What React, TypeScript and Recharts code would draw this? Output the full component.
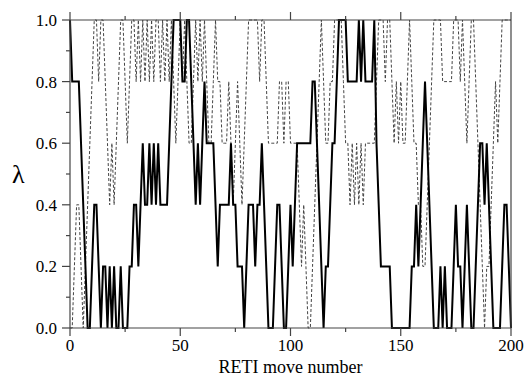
import { Line, LineChart, XAxis, YAxis } from "recharts";

// λ visited by the two replicas, one value per RETI move (0..200)
const solidLambda = [
  1.0, 0.8, 0.8, 0.8, 0.8, 0.6, 0.4, 0.2, 0.0, 0.0,
  0.2, 0.4, 0.4, 0.2, 0.0, 0.2, 0.2, 0.0, 0.2, 0.0,
  0.2, 0.0, 0.0, 0.2, 0.0, 0.0, 0.0, 0.2, 0.2, 0.4,
  0.4, 0.2, 0.4, 0.6, 0.4, 0.4, 0.6, 0.4, 0.6, 0.4,
  0.6, 0.4, 0.4, 0.4, 0.4, 0.6, 0.8, 1.0, 1.0, 1.0,
  1.0, 0.8, 0.8, 1.0, 1.0, 0.8, 0.6, 0.4, 0.6, 0.4,
  0.6, 0.8, 0.6, 0.6, 0.6, 0.6, 0.4, 0.2, 0.4, 0.4,
  0.4, 0.4, 0.4, 0.6, 0.4, 0.4, 0.2, 0.2, 0.2, 0.0,
  0.2, 0.4, 0.4, 0.4, 0.2, 0.4, 0.4, 0.6, 0.4, 0.2,
  0.0, 0.0, 0.0, 0.2, 0.4, 0.4, 0.2, 0.0, 0.0, 0.2,
  0.4, 0.2, 0.4, 0.6, 0.6, 0.6, 0.6, 0.6, 0.6, 0.6,
  0.8, 0.8, 0.6, 0.4, 0.2, 0.0, 0.2, 0.2, 0.4, 0.6,
  0.6, 0.8, 1.0, 1.0, 1.0, 1.0, 0.8, 0.8, 0.8, 0.8,
  0.8, 1.0, 0.8, 1.0, 0.8, 0.8, 0.8, 0.8, 1.0, 0.6,
  0.4, 0.2, 0.2, 0.2, 0.2, 0.2, 0.0, 0.0, 0.0, 0.0,
  0.0, 0.0, 0.0, 0.0, 0.0, 0.2, 0.2, 0.4, 0.2, 0.4,
  0.6, 0.8, 0.6, 0.4, 0.2, 0.0, 0.0, 0.0, 0.2, 0.0,
  0.2, 0.0, 0.0, 0.0, 0.2, 0.4, 0.2, 0.2, 0.0, 0.2,
  0.4, 0.2, 0.0, 0.0, 0.2, 0.4, 0.6, 0.6, 0.4, 0.6,
  0.4, 0.2, 0.0, 0.0, 0.0, 0.0, 0.2, 0.4, 0.4, 0.2,
  0.0,
];

const dashedLambda = [
  0.0, 0.0, 0.2, 0.4, 0.4, 0.2, 0.0, 0.2, 0.4, 0.6,
  0.8, 1.0, 1.0, 0.8, 1.0, 1.0, 0.8, 0.6, 0.4, 0.6,
  0.4, 0.6, 0.8, 1.0, 1.0, 0.8, 0.6, 0.8, 1.0, 1.0,
  0.8, 1.0, 0.8, 1.0, 0.8, 1.0, 0.8, 1.0, 0.8, 1.0,
  1.0, 0.8, 1.0, 0.8, 1.0, 0.8, 1.0, 0.8, 0.6, 0.8,
  1.0, 0.8, 1.0, 0.8, 0.6, 0.6, 0.8, 1.0, 0.8, 1.0,
  0.8, 1.0, 0.8, 0.6, 0.6, 0.8, 1.0, 0.8, 0.8, 0.6,
  0.6, 0.6, 0.8, 0.6, 0.4, 0.6, 0.8, 0.6, 0.4, 0.6,
  0.8, 1.0, 1.0, 1.0, 1.0, 1.0, 0.8, 1.0, 1.0, 0.8,
  0.6, 0.6, 0.6, 0.6, 0.6, 0.8, 0.8, 0.6, 0.8, 0.8,
  0.6, 0.6, 0.6, 0.6, 0.4, 0.2, 0.4, 0.2, 0.0, 0.0,
  0.2, 0.4, 0.6, 0.8, 1.0, 0.8, 0.6, 0.6, 0.8, 0.8,
  1.0, 1.0, 1.0, 1.0, 0.8, 0.6, 0.6, 0.4, 0.6, 0.4,
  0.6, 0.4, 0.6, 0.4, 0.6, 0.6, 0.6, 0.6, 0.6, 0.8,
  1.0, 1.0, 1.0, 0.8, 1.0, 1.0, 0.8, 0.6, 0.8, 0.6,
  0.8, 0.6, 0.6, 0.8, 1.0, 0.8, 0.6, 0.6, 0.4, 0.4,
  0.2, 0.2, 0.4, 0.6, 0.8, 1.0, 1.0, 1.0, 1.0, 0.8,
  0.8, 0.8, 0.8, 0.8, 1.0, 1.0, 1.0, 0.8, 1.0, 0.8,
  0.6, 0.8, 1.0, 1.0, 0.8, 0.6, 0.4, 0.2, 0.0, 0.2,
  0.2, 0.4, 0.6, 0.8, 0.6, 0.8, 1.0, 1.0, 1.0, 1.0,
  1.0,
];

const xTicks = [0, 25, 50, 75, 100, 125, 150, 175, 200];
const yTicks = [0, 0.1, 0.2, 0.3, 0.4, 0.5, 0.6, 0.7, 0.8, 0.9, 1.0];

const data = solidLambda.map((v, i) => ({
  move: i,
  solid: v,
  dashed: dashedLambda[i],
}));

const FONT = "'Liberation Serif', 'Times New Roman', 'DejaVu Serif', serif";
const AXIS = "#444";
const TS = 8; // room reserved for ticks
const TM = 2;
const MAJOR = 8;
const MINOR = 4;

const isMajorX = (v: number) => v % 50 === 0;
const isMajorY = (v: number) => Math.round(v * 10) % 2 === 0;

// tick mark + optional label, drawn outward from the axis line
function makeTick(side: "bottom" | "top" | "left" | "right") {
  return function Tick(props: any) {
    const { x, y, payload } = props;
    const v = payload.value;
    const major = side === "bottom" || side === "top" ? isMajorX(v) : isMajorY(v);
    const len = major ? MAJOR : MINOR;
    let line;
    let label = null;
    if (side === "bottom") {
      const ay = y - TS - TM;
      line = <line x1={x} x2={x} y1={ay} y2={ay + len} stroke={AXIS} strokeWidth={1.2} />;
      if (major)
        label = (
          <text x={x} y={ay + 11} dy="0.71em" textAnchor="middle" fill="#000"
            style={{ fontSize: 17, fontFamily: FONT }}>
            {v}
          </text>
        );
    } else if (side === "top") {
      const ay = y + TS + TM;
      line = <line x1={x} x2={x} y1={ay} y2={ay - len} stroke={AXIS} strokeWidth={1.2} />;
    } else if (side === "left") {
      const ax = x + TS + TM;
      line = <line x1={ax} x2={ax - len} y1={y} y2={y} stroke={AXIS} strokeWidth={1.2} />;
      if (major)
        label = (
          <text x={ax - 13} y={y} dy="0.35em" textAnchor="end" fill="#000"
            style={{ fontSize: 17, fontFamily: FONT }}>
            {v.toFixed(1)}
          </text>
        );
    } else {
      const ax = x - TS - TM;
      line = <line x1={ax} x2={ax + len} y1={y} y2={y} stroke={AXIS} strokeWidth={1.2} />;
    }
    return (
      <g>
        {line}
        {label}
      </g>
    );
  };
}

const BottomTick = makeTick("bottom");
const TopTick = makeTick("top");
const LeftTick = makeTick("left");
const RightTick = makeTick("right");

export default function App() {
  return (
    <div style={{ position: "absolute", left: 0, top: 0, background: "#fff" }}>
      <LineChart
        width={524}
        height={377}
        data={data}
        margin={{ top: 0, right: 0, bottom: 0, left: 0 }}
      >
        <XAxis
          dataKey="move"
          type="number"
          domain={[0, 200]}
          ticks={xTicks}
          interval={0}
          height={49}
          tickSize={TS}
          tickMargin={TM}
          tickLine={false}
          tick={BottomTick}
          stroke={AXIS}
          strokeWidth={1.2}
          label={{
            value: "RETI move number",
            position: "insideBottom",
            offset: 4.5,
            style: { fontSize: 18, fontFamily: FONT, fill: "#000" },
          }}
        />
        <XAxis
          xAxisId="top"
          orientation="top"
          dataKey="move"
          type="number"
          domain={[0, 200]}
          ticks={xTicks}
          interval={0}
          height={20}
          tickSize={TS}
          tickMargin={TM}
          tickLine={false}
          tick={TopTick}
          stroke={AXIS}
          strokeWidth={1.2}
        />
        <YAxis
          type="number"
          domain={[0, 1]}
          ticks={yTicks}
          interval={0}
          width={70}
          tickSize={TS}
          tickMargin={TM}
          tickLine={false}
          tick={LeftTick}
          stroke={AXIS}
          strokeWidth={1.2}
          label={{
            value: "λ",
            position: "insideLeft",
            offset: 12,
            style: { fontSize: 26, fontFamily: FONT, fill: "#000" },
          }}
        />
        <YAxis
          yAxisId="right"
          orientation="right"
          type="number"
          domain={[0, 1]}
          ticks={yTicks}
          interval={0}
          width={13}
          tickSize={TS}
          tickMargin={TM}
          tickLine={false}
          tick={RightTick}
          stroke={AXIS}
          strokeWidth={1.2}
        />
        <Line
          type="linear"
          dataKey="dashed"
          stroke="#444"
          strokeWidth={1}
          strokeDasharray="3 2"
          dot={false}
          isAnimationActive={false}
        />
        <Line
          type="linear"
          dataKey="solid"
          stroke="#000"
          strokeWidth={2}
          dot={false}
          isAnimationActive={false}
        />
      </LineChart>
    </div>
  );
}
